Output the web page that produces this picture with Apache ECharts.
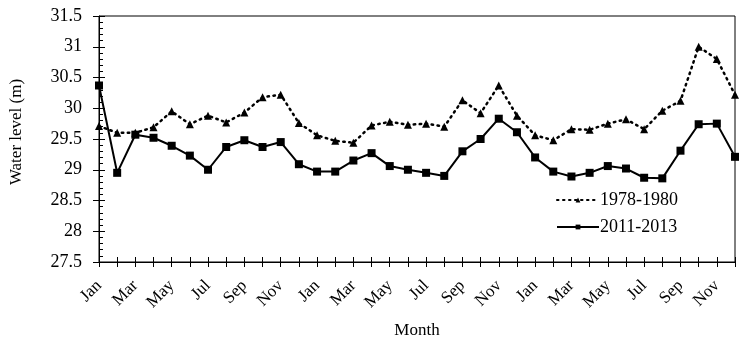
<!DOCTYPE html>
<html><head><meta charset="utf-8">
<script src="https://cdn.jsdelivr.net/npm/echarts@6/dist/echarts.min.js"></script>
<style>html,body{margin:0;padding:0;background:#fff}#c{width:753px;height:341px}</style>
</head><body><div id="c"></div>
<script>
const monthNames = ['Jan','Feb','Mar','Apr','May','Jun','Jul','Aug','Sep','Oct','Nov','Dec'];
const categories = [].concat(monthNames, monthNames, monthNames);
const series1978 = [29.71,29.60,29.60,29.69,29.95,29.74,29.88,29.77,29.93,30.18,30.22,29.76,
                    29.56,29.47,29.44,29.72,29.78,29.73,29.75,29.70,30.13,29.92,30.37,29.88,
                    29.56,29.48,29.66,29.65,29.75,29.82,29.66,29.96,30.12,31.00,30.80,30.22];
const series2011 = [30.37,28.95,29.57,29.52,29.39,29.23,29.00,29.37,29.48,29.37,29.45,29.09,
                    28.97,28.97,29.15,29.27,29.06,29.00,28.95,28.90,29.30,29.50,29.83,29.61,
                    29.20,28.97,28.89,28.95,29.06,29.02,28.87,28.86,29.31,29.74,29.75,29.21];
const yTicks = {min: 27.5, max: 31.5, interval: 0.5};

const font = 'Liberation Serif';
const chart = echarts.init(document.getElementById('c'), null, {renderer: 'canvas'});
chart.setOption({
  animation: false,
  backgroundColor: '#fff',
  grid: {left: 99, right: 18, top: 16, bottom: 79, containLabel: false, outerBoundsMode: 'none',
         show: true, borderColor: '#000', borderWidth: 1, backgroundColor: 'transparent'},
  legend: {
    orient: 'vertical', left: 551, top: 186, itemWidth: 42, itemHeight: 6, itemGap: 9,
    textStyle: {fontFamily: font, fontSize: 18, color: '#000', padding: [0, 0, 0, -4]},
    data: ['1978-1980', '2011-2013']
  },
  xAxis: [{
    type: 'category', data: categories, boundaryGap: false,
    axisLine: {lineStyle: {color: '#000', width: 1}},
    axisTick: {show: true, interval: 0, length: 5, lineStyle: {color: '#000'}},
    axisLabel: {interval: 1, rotate: 45, fontFamily: font, fontSize: 17, color: '#000', margin: 21},
    name: 'Month', nameLocation: 'middle', nameGap: 60,
    nameTextStyle: {fontFamily: font, fontSize: 17, color: '#000'}
  }, {
    type: 'category', data: categories, boundaryGap: false, position: 'bottom',
    axisLine: {show: false},
    axisTick: {show: true, inside: true, interval: 0, length: 5, lineStyle: {color: '#000'}},
    axisLabel: {show: false}
  }],
  yAxis: [{
    type: 'value', min: yTicks.min, max: yTicks.max, interval: yTicks.interval,
    axisLine: {show: true, lineStyle: {color: '#000'}},
    axisTick: {show: true, length: 6, lineStyle: {color: '#000'}},
    axisLabel: {fontFamily: font, fontSize: 18, color: '#000', margin: 17},
    splitLine: {show: false},
    name: 'Water level (m)', nameLocation: 'middle', nameGap: 74, nameRotate: 90,
    nameTextStyle: {fontFamily: font, fontSize: 17, color: '#000', padding: [0, 0, 0, 14]}
  }, {
    type: 'value', min: yTicks.min, max: yTicks.max, interval: yTicks.interval, position: 'left',
    axisLine: {show: false},
    axisTick: {show: true, inside: true, length: 6, lineStyle: {color: '#000'}},
    minorTick: {show: true, splitNumber: 5, length: 4, lineStyle: {color: '#000'}},
    axisLabel: {show: false},
    splitLine: {show: false}
  }],
  series: [{
    name: '1978-1980', type: 'line', data: series1978,
    symbol: 'triangle', symbolSize: 8, showAllSymbol: true,
    lineStyle: {color: '#000', width: 2.5, type: [1.5, 4.5], cap: 'round'},
    itemStyle: {color: '#000'}
  }, {
    name: '2011-2013', type: 'line', data: series2011,
    symbol: 'rect', symbolSize: 8, showAllSymbol: true,
    lineStyle: {color: '#000', width: 2},
    itemStyle: {color: '#000'}
  }]
});
</script></body></html>
